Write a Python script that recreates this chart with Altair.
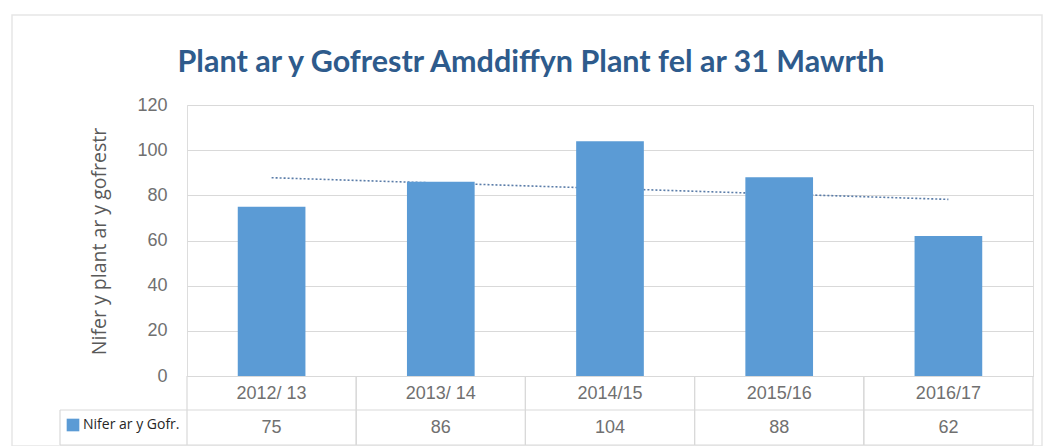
import altair as alt
import pandas as pd

# ---- data ----
categories = ["2012/ 13", "2013/ 14", "2014/15", "2015/16", "2016/17"]
values = [75, 86, 104, 88, 62]
series_name = "Nifer ar y Gofr."
chart_title = "Plant ar y Gofrestr Amddiffyn Plant fel ar 31 Mawrth"
y_title = "Nifer y plant ar y gofrestr"
y_ticks = [0, 20, 40, 60, 80, 100, 120]

df = pd.DataFrame({
    "cat": categories,
    "val": values,
    "idx": list(range(len(categories))),
    "series": [series_name] * len(categories),
})

W, H = 846, 271
BAR = "#5b9bd5"
GRID = "#d9d9d9"
NUMFONT = "Liberation Sans"
TXTFONT = "Open Sans"
NUMCOLOR = "#707070"

base = alt.Chart(df)
band_scale = alt.Scale(paddingInner=0.6, paddingOuter=0.3)

xband = alt.X("cat:N", sort=categories, scale=band_scale,
              axis=alt.Axis(title=None, labelAngle=0, ticks=False, domain=True,
                            domainColor=GRID, domainWidth=1.2,
                            labelFont=NUMFONT, labelFontSize=18, labelColor=NUMCOLOR,
                            labelBaseline="middle", labelPadding=17))

yq = alt.Y("val:Q", scale=alt.Scale(domain=[0, 120], nice=False),
           axis=alt.Axis(title=y_title, values=y_ticks, grid=True, gridColor=GRID,
                         gridWidth=1.2, domain=False, ticks=False,
                         labelFont=NUMFONT, labelFontSize=18, labelColor=NUMCOLOR,
                         labelPadding=20,
                         titleFont=TXTFONT, titleFontSize=19.5, titleFontWeight="normal",
                         titleColor="#595959", titleAngle=-90, titleX=-88, titleY=136,
                         titleAlign="center", titleBaseline="middle"))

xq_scale = alt.Scale(domain=[-0.5, len(categories) - 0.5], nice=False, zero=False)

# frame around whole chart
frame = alt.Chart(pd.DataFrame({"k": [0]})).mark_rect(
    fillOpacity=0, stroke="#e6e6e6", strokeWidth=1.5
).encode(x=alt.value(-175), x2=alt.value(855), y=alt.value(-90), y2=alt.value(341))

# trend line (linear regression of the values)
trend = base.transform_regression("idx", "val", method="linear").mark_line(
    color="#5a7ca8", strokeDash=[2, 2], strokeWidth=1.6
).encode(
    x=alt.X("idx:Q", scale=xq_scale, axis=None),
    y=alt.Y("val:Q", scale=alt.Scale(domain=[0, 120], nice=False), axis=None),
)

bars = base.mark_bar(color=BAR).encode(
    x=xband, y=yq,
    color=alt.Color("series:N", scale=alt.Scale(domain=[series_name], range=[BAR]),
                    legend=alt.Legend(title=None, orient="none", legendX=-121, legendY=313,
                                      symbolType="square", symbolSize=160,
                                      symbolStrokeWidth=0, padding=0,
                                      labelFont=TXTFONT, labelFontSize=14,
                                      labelColor="#262626", labelOffset=3)),
)

# data table: values row
vals = base.mark_text(font=NUMFONT, fontSize=18, color=NUMCOLOR, baseline="middle").encode(
    x=alt.X("cat:N", sort=categories, scale=band_scale, axis=None),
    y=alt.value(323), text="val:Q"
)

# table lines
left_edges = base.transform_calculate(e="datum.idx - 0.5").mark_rule(
    color=GRID, strokeWidth=1.2
).encode(x=alt.X("e:Q", scale=xq_scale, axis=None), y=alt.value(271), y2=alt.value(340))
right_edges = base.transform_calculate(e="datum.idx + 0.5").mark_rule(
    color=GRID, strokeWidth=1.2
).encode(x=alt.X("e:Q", scale=xq_scale, axis=None), y=alt.value(271), y2=alt.value(340))

hl = alt.Chart(pd.DataFrame({"k": [0, 1]})).mark_rule(color=GRID, strokeWidth=1.2).encode(
    x=alt.value(-127), x2=alt.value(W),
    y=alt.Y("k:Q", scale=alt.Scale(domain=[0, 1], range=[305, 340]), axis=None),
)
vl = alt.Chart(pd.DataFrame({"k": [0]})).mark_rule(color=GRID, strokeWidth=1.2).encode(
    x=alt.value(-127), y=alt.value(305), y2=alt.value(340)
)

title = alt.Chart(pd.DataFrame({"t": [chart_title]})).mark_text(
    font="Lato", fontSize=30.5, fontWeight="bold", color="#2e5b8c",
    align="center", baseline="alphabetic"
).encode(x=alt.value(344), y=alt.value(-33), text="t:N")

chart = alt.layer(
    frame, trend, bars, vals, left_edges, right_edges, hl, vl, title
).resolve_scale(x="independent", y="independent").properties(
    width=W, height=H,
    autosize=alt.AutoSizeParams(type="none"),
    padding={"left": 179, "top": 97, "right": 15, "bottom": 70},
).configure_view(stroke=None).configure(background="white")

chart.save("out.html", embed_options={"renderer": "svg", "actions": False})
